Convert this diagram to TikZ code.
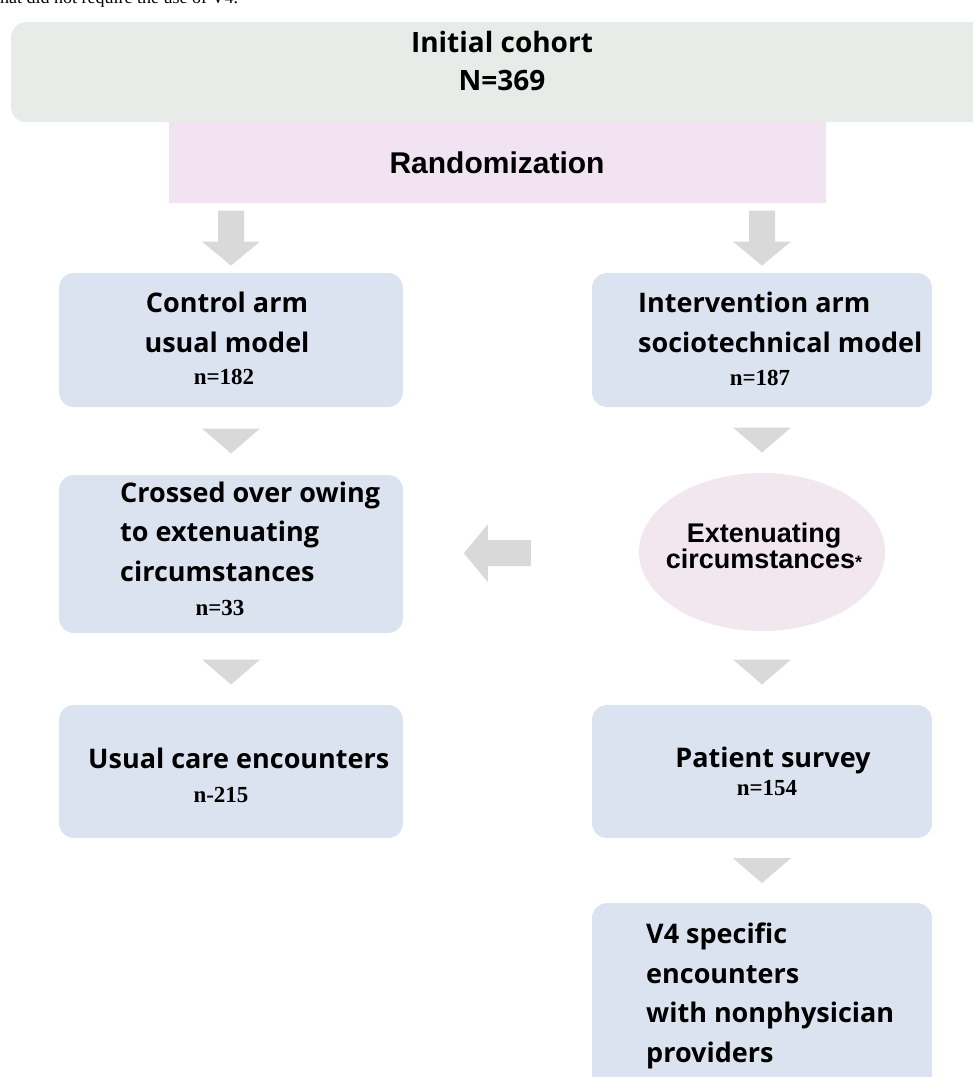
\documentclass[tikz,border=0pt]{standalone}
\usepackage{fontspec}
\setmainfont{Liberation Serif}
\newfontfamily\segoe{Open Sans}
\newfontfamily\arialfont{Liberation Sans}
\usetikzlibrary{calc, positioning, shapes.geometric}
\definecolor{boxblue}{HTML}{DCE3F0}
\definecolor{boxgreen}{HTML}{E7ECE8}
\definecolor{boxpink}{HTML}{F2E3F2}
\definecolor{ovalpink}{HTML}{F2E6EF}
\definecolor{arrowgray}{HTML}{D9D9D9}
\tikzset{
  bluebox/.style={fill=boxblue, rounded corners=15pt, minimum width=344pt, minimum height=134pt, inner sep=0pt},
  boxtext/.style={font=\segoe\bfseries\fontsize{27}{39.5}\selectfont, inner sep=0pt},
  ntext/.style={font=\bfseries\fontsize{23}{26}\selectfont, inner sep=0pt, anchor=base},
  pics/tri/.style={code={\fill[arrowgray] (-29,-12.5) -- (29,-12.5) -- (0,12.5) -- cycle;}},
  pics/blk/.style={code={\fill[arrowgray] (-13,-#1) -- (13,-#1) -- (13,#1-24) -- (29,#1-24) -- (0,#1) -- (-29,#1-24) -- (-13,#1-24) -- cycle;}}
}
\begin{document}
\begin{tikzpicture}[x=1pt, y=-1pt]
\useasboundingbox (0,0) rectangle (973,1077);
% line of the page above the chart, cut by the crop
\node[font=\fontsize{18}{20}\selectfont, anchor=base west, inner sep=0pt] (cuttext) at (0,3) {hat did not require the use of V4.};

% top boxes
\node[fill=boxgreen, rounded corners=15pt, minimum width=990pt, minimum height=100pt, inner sep=0pt, anchor=north west] (cohort) at (11,22) {};
\node[fill=boxpink, minimum width=657pt, minimum height=81pt, inner sep=0pt, anchor=north west] (rand) at (169,122) {};
\node[boxtext, font=\segoe\bfseries\fontsize{28}{38}\selectfont, align=center, anchor=base] (cohorttxt) at (502,90) {Initial cohort\\N=369};
\node[font=\arialfont\bfseries\fontsize{30}{30}\selectfont, inner sep=0pt, anchor=base] (randtxt) at (497,173) {Randomization};

% the two arms
\node[bluebox] (ctrl) at (231,340) {};
\node[bluebox, minimum width=340pt] (interv) at (762,340) {};
\node[bluebox, minimum height=158pt] (cross) at (231,554) {};
\node[ellipse, fill=ovalpink, minimum width=246pt, minimum height=158pt, inner sep=0pt] (extn) at (762,552) {};
\node[bluebox, minimum height=133pt] (usual) at (231,771.5) {};
\node[bluebox, minimum width=340pt, minimum height=133pt] (survey) at (762,771.5) {};
\node[bluebox, minimum width=340pt, minimum height=190pt, anchor=north] (v4) at (762,903) {};

% texts in the boxes (base = last line)
\node[boxtext, align=center, anchor=base] (ctrltxt) at (227,352) {Control arm\\usual model};
\node[ntext] (ctrln) at (224,384) {n=182};
\node[boxtext, align=left, anchor=base west] (intervtxt) at (638,352) {Intervention arm\\sociotechnical model};
\node[ntext] (intervn) at (760,385) {n=187};
\node[boxtext, align=left, anchor=base west] (crosstxt) at (120,581) {Crossed over owing\\to extenuating\\circumstances};
\node[ntext] (crossn) at (220,615) {n=33};
\node[font=\arialfont\bfseries\fontsize{27}{26}\selectfont, align=center, inner sep=0pt, anchor=base] (extntxt) at (764,568) {Extenuating\\circumstances{\fontsize{18}{18}\selectfont*}};
\node[boxtext, anchor=base west] (usualtxt) at (88,768) {Usual care encounters};
\node[ntext] (usualn) at (221,802) {n-215};
\node[boxtext, anchor=base] (surveytxt) at (773,767) {Patient survey};
\node[ntext] (surveyn) at (767,795) {n=154};
\node[boxtext, align=left, anchor=base west] (v4txt) at (646,1062) {V4 specific\\encounters\\with nonphysician\\providers};

% grey arrows
\pic at ($(rand.south -| ctrl.north)!0.5!(ctrl.north)$) {blk=27.5};
\pic at ($(rand.south -| interv.north)!0.5!(interv.north)$) {blk=27.5};
\pic at ($(ctrl.south)!0.5!(cross.north)$) {tri};
\pic at ($(interv.south)!0.5!(extn.north)$) {tri};
\pic at ($(cross.south)!0.5!(usual.north)+(0,3)$) {tri};
\pic at ($(extn.south)!0.5!(survey.north)+(0,4)$) {tri};
\pic at ($(survey.south)!0.5!(v4.north)$) {tri};
\pic[rotate=-90] at ($(cross.east)!0.4!(extn.west)$) {blk=33.5};
\end{tikzpicture}
\end{document}
